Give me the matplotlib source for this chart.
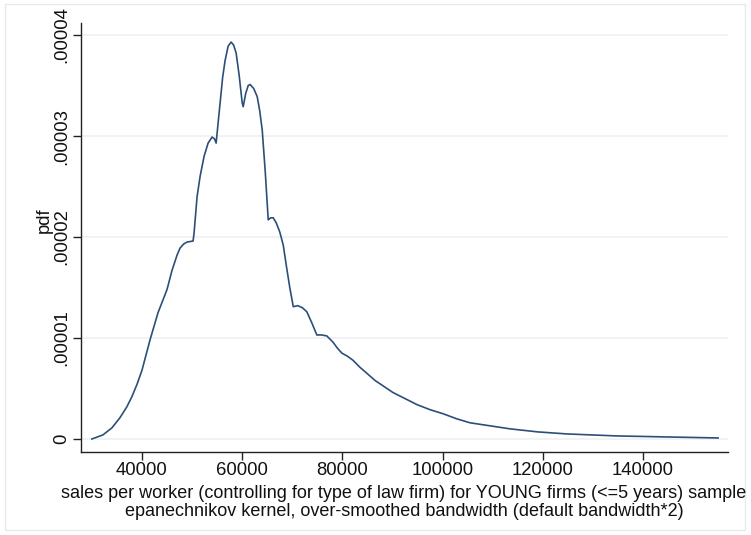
import matplotlib.pyplot as plt
from matplotlib.patches import Rectangle

# kernel density estimate (y in units of 1e-5)
sales = [30000, 32200, 34000, 35600, 37000, 38000, 39000, 40000, 41600, 43200,
         45000, 46000, 47000, 47600, 48300, 49000, 50200, 50400, 51000, 51600,
         52400, 53200, 54000, 54500, 54800, 55600, 56100, 56600, 57200, 57800,
         58300, 58800, 59400, 60000, 60200, 60700, 61200, 61600, 62300, 63000,
         63500, 64000, 64600, 65200, 65700, 66200, 66800, 67500, 68200, 68800,
         69500, 70200, 71100, 72000, 72900, 73900, 74900, 75900, 76900, 78100,
         79000, 79900, 81000, 82100, 83500, 84900, 86500, 88300, 90100, 92500,
         94900, 97500, 100100, 102800, 105500, 109500, 113500, 119000, 124800,
         129800, 134800, 140000, 144800, 150000, 155000]
pdf_e5 = [0.00, 0.04, 0.11, 0.21, 0.32, 0.42, 0.54, 0.68, 0.98, 1.25,
          1.48, 1.67, 1.82, 1.89, 1.93, 1.95, 1.96, 2.04, 2.40, 2.60,
          2.80, 2.93, 2.99, 2.97, 2.93, 3.33, 3.58, 3.75, 3.89, 3.93,
          3.90, 3.82, 3.60, 3.33, 3.29, 3.42, 3.50, 3.51, 3.47, 3.39,
          3.25, 3.06, 2.65, 2.17, 2.19, 2.19, 2.14, 2.05, 1.92, 1.72,
          1.50, 1.31, 1.32, 1.30, 1.26, 1.15, 1.03, 1.03, 1.02, 0.96,
          0.90, 0.85, 0.82, 0.78, 0.71, 0.65, 0.58, 0.52, 0.46, 0.40,
          0.34, 0.29, 0.25, 0.20, 0.16, 0.13, 0.10, 0.07, 0.05,
          0.04, 0.03, 0.025, 0.02, 0.015, 0.01]

xticks = [40000, 60000, 80000, 100000, 120000, 140000]
yticks = [0, 1e-5, 2e-5, 3e-5, 4e-5]
ytick_labels = ['0', '.00001', '.00002', '.00003', '.00004']

xlabel1 = 'sales per worker (controlling for type of law firm) for YOUNG firms (<=5 years) sample'
xlabel2 = 'epanechnikov kernel, over-smoothed bandwidth (default bandwidth*2)'

plt.rcParams['font.family'] = ['Liberation Sans', 'DejaVu Sans']

W, H = 751, 535
fig = plt.figure(figsize=(W / 100, H / 100), dpi=100)
ax = fig.add_axes([81 / W, 1 - 452 / H, (728 - 81) / W, (452 - 23) / H])

ax.plot(sales, [v * 1e-5 for v in pdf_e5], color='#2c4f78', lw=1.2)

ax.set_xlim(27830, 156970)
ax.set_ylim(-0.129e-5, 4.119e-5)
ax.set_xticks(xticks)
ax.set_xticklabels([str(t) for t in xticks])
ax.set_yticks(yticks)
ax.set_yticklabels(ytick_labels, rotation=90, va='center')

ax.grid(axis='y', color='#eef1f3', lw=1.2)
ax.set_axisbelow(True)
for s in ['top', 'right']:
    ax.spines[s].set_visible(False)
for s in ['left', 'bottom']:
    ax.spines[s].set_color('#222222')
    ax.spines[s].set_linewidth(1.0)

ax.tick_params(axis='both', direction='out', length=6, width=1.0,
               color='#222222', labelsize=13.3, labelcolor='#111111')
ax.tick_params(axis='x', pad=1.5)
ax.tick_params(axis='y', pad=2)

ax.set_ylabel('pdf', fontsize=13.3, color='#111111')
ax.yaxis.set_label_coords((53 - 81) / (728 - 81), (452 - 220) / (452 - 23))

fig.text(404 / W, 1 - 493 / H, xlabel1, ha='center', va='center',
         fontsize=13, color='#111111')
fig.text(404 / W, 1 - 511 / H, xlabel2, ha='center', va='center',
         fontsize=13, color='#111111')

# faint outer frame of the graph region
fig.patches.append(Rectangle((5 / W, 0.01), (745 - 5) / W, 1 - 4 / H - 0.01,
                             transform=fig.transFigure, fill=False,
                             edgecolor='#e6eaee', lw=1))

fig.savefig('out.png', dpi=100)
